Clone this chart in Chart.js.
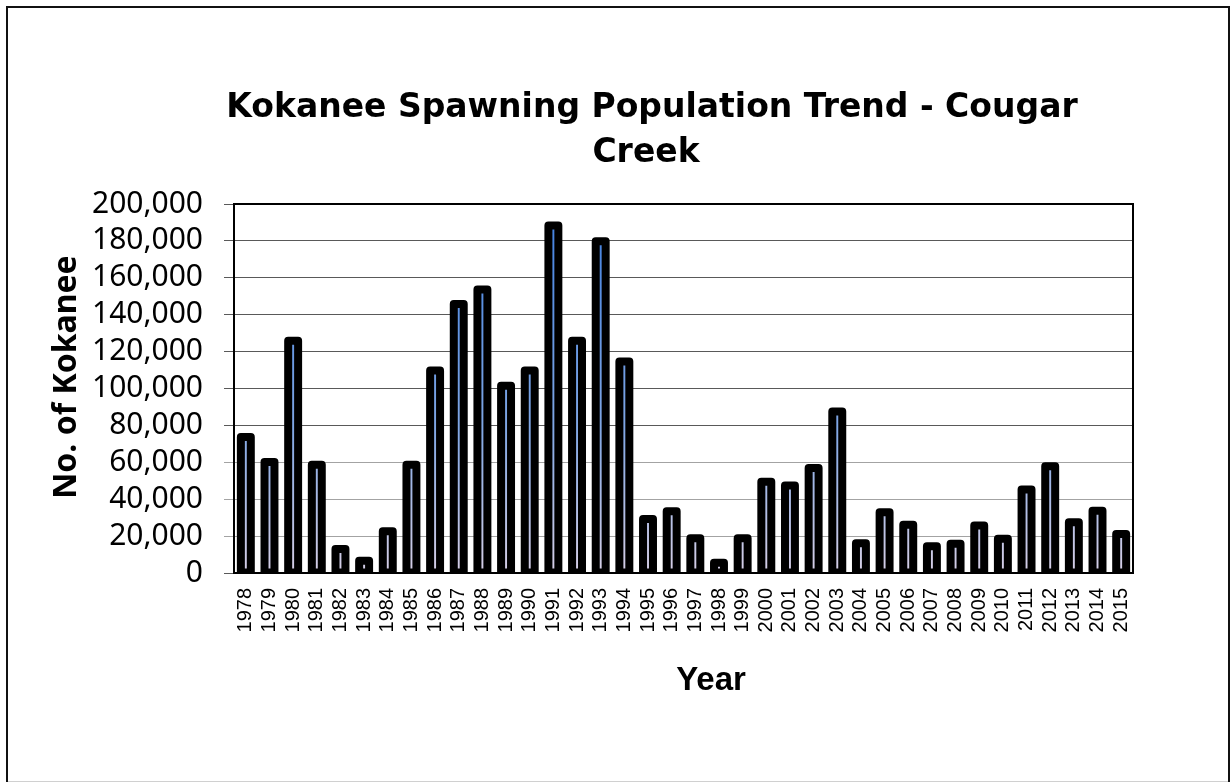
<!DOCTYPE html>
<html>
<head>
<meta charset="utf-8">
<title>Kokanee Spawning Population Trend - Cougar Creek</title>
<script src="https://cdn.jsdelivr.net/npm/chart.js@4/dist/chart.umd.min.js"></script>
<style>
  html, body { margin: 0; padding: 0; background: #fff; }
  #wrap { position: relative; width: 1232px; height: 783px; }
  canvas { display: block; }
</style>
</head>
<body>
<div id="wrap"><canvas id="chart" width="1232" height="783"></canvas></div>
<script>
// Spawner counts per year
const years = [
  '1978','1979','1980','1981','1982','1983','1984','1985','1986','1987',
  '1988','1989','1990','1991','1992','1993','1994','1995','1996','1997',
  '1998','1999','2000','2001','2002','2003','2004','2005','2006','2007',
  '2008','2009','2010','2011','2012','2013','2014','2015'
];
const kokanee = [
  73700, 60200, 125900, 58700, 13000, 6700, 22600, 58700, 109700, 145800,
  153600, 101500, 109700, 188300, 125900, 179800, 114600, 29300, 33500, 18800,
  5500, 18800, 49500, 47400, 56900, 87500, 16100, 32900, 26200, 14500,
  15800, 25700, 18500, 45200, 57900, 27500, 33800, 21200
];
const yMin = 0;
const yMax = 200000;
const yStep = 20000;

const titleLines = ['Kokanee Spawning Population Trend - Cougar', 'Creek'];
const yTitle = 'No. of Kokanee';
const xTitle = 'Year';

// Outer frame and white background
const frame = {
  id: 'frame',
  beforeDraw(chart) {
    const ctx = chart.ctx;
    ctx.save();
    ctx.fillStyle = '#fff';
    ctx.fillRect(0, 0, chart.width, chart.height);
    ctx.strokeStyle = '#111';
    ctx.lineWidth = 2;
    ctx.beginPath();
    ctx.moveTo(7, 782);
    ctx.lineTo(7, 7);
    ctx.lineTo(1229, 7);
    ctx.lineTo(1229, 782);
    ctx.stroke();
    ctx.strokeStyle = '#d0d0d0';
    ctx.lineWidth = 1;
    ctx.beginPath();
    ctx.moveTo(8, 781.5);
    ctx.lineTo(1228, 781.5);
    ctx.stroke();
    ctx.restore();
  }
};

// Thick rounded black outline round each bar, centred on the bar edge
const barOutline = {
  id: 'barOutline',
  afterDatasetsDraw(chart) {
    const ctx = chart.ctx;
    const area = chart.chartArea;
    const meta = chart.getDatasetMeta(0);
    ctx.save();
    ctx.beginPath();
    ctx.rect(area.left, area.top - 20, area.right - area.left, area.bottom - area.top + 21);
    ctx.clip();
    ctx.strokeStyle = '#000';
    ctx.lineWidth = 8;
    ctx.lineJoin = 'round';
    meta.data.forEach(bar => {
      const p = bar.getProps(['x', 'y', 'base', 'width'], true);
      ctx.strokeRect(p.x - p.width / 2, p.y, p.width, p.base - p.y);
    });
    ctx.restore();
  }
};

// Plot-area box on the top and right
const plotBox = {
  id: 'plotBox',
  afterDraw(chart) {
    const ctx = chart.ctx;
    const a = chart.chartArea;
    ctx.save();
    ctx.strokeStyle = '#000';
    ctx.lineWidth = 2;
    ctx.beginPath();
    ctx.moveTo(a.left, a.top);
    ctx.lineTo(a.right, a.top);
    ctx.lineTo(a.right, a.bottom);
    ctx.stroke();
    ctx.restore();
  }
};

// Chart title and axis captions
const captions = {
  id: 'captions',
  afterDraw(chart) {
    const ctx = chart.ctx;
    ctx.save();
    ctx.fillStyle = '#000';
    ctx.textAlign = 'center';
    ctx.textBaseline = 'alphabetic';
    ctx.font = 'bold 33px "DejaVu Sans"';
    ctx.fillText(titleLines[0], 652, 117);
    ctx.fillText(titleLines[1], 646, 162);

    ctx.font = 'bold 33px "Liberation Sans"';
    ctx.fillText(xTitle, 711, 690);

    ctx.translate(76, 377);
    ctx.rotate(-Math.PI / 2);
    ctx.font = 'bold 32px "Noto Sans"';
    ctx.fillText(yTitle, 0, 0);
    ctx.restore();
  }
};

function barFill(context) {
  const chart = context.chart;
  const a = chart.chartArea;
  if (!a) return '#4a8ae0';
  const g = chart.ctx.createLinearGradient(0, a.top, 0, a.bottom);
  g.addColorStop(0, '#3f7fe0');
  g.addColorStop(0.6, '#7fa6e4');
  g.addColorStop(1, '#d6cfe6');
  return g;
}

new Chart(document.getElementById('chart'), {
  type: 'bar',
  data: {
    labels: years,
    datasets: [{
      label: 'No. of Kokanee',
      data: kokanee,
      backgroundColor: barFill,
      borderWidth: 0,
      categoryPercentage: 1,
      barPercentage: 0.42
    }]
  },
  options: {
    responsive: false,
    animation: false,
    devicePixelRatio: 1,
    layout: { padding: { top: 204, right: 99, bottom: 0, left: 0 } },
    plugins: {
      legend: { display: false },
      title: { display: false },
      tooltip: { enabled: false }
    },
    scales: {
      x: {
        grid: { display: false, drawTicks: false },
        border: { display: true, color: '#000', width: 2 },
        ticks: {
          autoSkip: false,
          minRotation: 90,
          maxRotation: 90,
          padding: 15,
          color: '#000',
          font: { family: '"Liberation Sans"', size: 20 }
        },
        afterFit(scale) { scale.height = 210; }
      },
      y: {
        min: yMin,
        max: yMax,
        grid: {
          color: ctx => (ctx.tick && ctx.tick.value > 0 && ctx.tick.value <= 60000) ? '#a3a3a3' : '#595959',
          lineWidth: 1,
          tickLength: 10,
          drawTicks: true
        },
        border: { display: true, color: '#000', width: 2 },
        ticks: {
          autoSkip: false,
          stepSize: yStep,
          padding: 21,
          color: '#000',
          font: { family: '"Noto Sans"', size: 30 },
          callback: v => Number(v).toLocaleString('en-US')
        },
        afterFit(scale) { scale.width = 234; }
      }
    }
  },
  plugins: [frame, barOutline, plotBox, captions]
});
</script>
</body>
</html>
